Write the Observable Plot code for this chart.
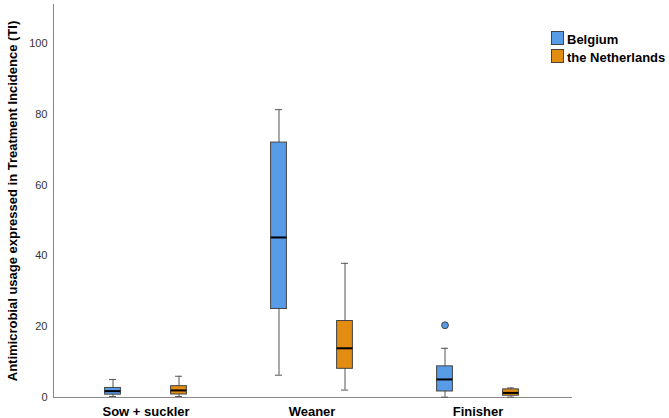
<!DOCTYPE html>
<html><head><meta charset="utf-8">
<script src="https://cdn.jsdelivr.net/npm/d3@7"></script>
<script src="https://cdn.jsdelivr.net/npm/@observablehq/plot@0.6"></script>
<style>
body{margin:0;background:#fff;font-family:"Liberation Sans",Arial,sans-serif}
#wrap{position:relative;width:669px;height:418px}
.legend{position:absolute;left:551px;top:32px;font:bold 13px "Liberation Sans",Arial,sans-serif;color:#000}
.item{display:flex;align-items:flex-end;height:13px;margin-bottom:5px}
.sw{width:11px;height:12px;border:1px solid #444;margin-right:3px;flex:none}
.lbl{line-height:13px;position:relative;top:1px}
</style></head>
<body><div id="wrap"></div>
<script>
const stages = ["Sow + suckler", "Weaner", "Finisher"];
const countries = ["Belgium", "the Netherlands"];
const colors = ["#589be6", "#e28c12"];
const yTicks = [0, 20, 40, 60, 80, 100];
const yLabel = "Antimicrobial usage expressed in Treatment Incidence (TI)";

// Belgium: whisker low, Q1, median, Q3, whisker high
const beLow = [0.3, 6.3, 0.1];
const beQ1 = [0.8, 25.0, 1.7];
const beMed = [1.8, 45.2, 5.1];
const beQ3 = [2.7, 72.0, 8.8];
const beHigh = [5.1, 81.3, 13.9];
// the Netherlands
const nlLow = [0.3, 2.1, 0.1];
const nlQ1 = [0.85, 8.1, 0.5];
const nlMed = [2.0, 13.9, 1.3];
const nlQ3 = [3.2, 21.6, 2.3];
const nlHigh = [6.0, 37.9, 2.7];
// outliers
const outStage = ["Finisher"];
const outCountry = ["Belgium"];
const outValue = [20.4];

const series = [
  {low: beLow, q1: beQ1, med: beMed, q3: beQ3, high: beHigh},
  {low: nlLow, q1: nlQ1, med: nlMed, q3: nlQ3, high: nlHigh}
];
const rows = [];
countries.forEach((c, ci) => stages.forEach((s, si) => rows.push({
  country: c, stage: s,
  low: series[ci].low[si], q1: series[ci].q1[si], med: series[ci].med[si],
  q3: series[ci].q3[si], high: series[ci].high[si]
})));
const outs = outValue.map((v, i) => ({stage: outStage[i], country: outCountry[i], value: v}));

const boxInset = 66.6, capInset = 71;
const offsets = [-33, 33];
const marks = [];
countries.forEach((c, ci) => {
  const d = rows.filter(r => r.country === c);
  const dx = offsets[ci];
  marks.push(
    Plot.ruleX(d, {x: "stage", y1: "low", y2: "high", dx, stroke: "#555", strokeWidth: 1}),
    Plot.tickY(d, {x: "stage", y: "high", dx, insetLeft: capInset, insetRight: capInset, stroke: "#555", strokeWidth: 1}),
    Plot.tickY(d, {x: "stage", y: "low", dx, insetLeft: capInset, insetRight: capInset, stroke: "#555", strokeWidth: 1}),
    Plot.barY(d, {x: "stage", y1: "q1", y2: "q3", dx, insetLeft: boxInset, insetRight: boxInset, fill: colors[ci], stroke: "#444", strokeWidth: 1}),
    Plot.tickY(d, {x: "stage", y: "med", dx, insetLeft: boxInset, insetRight: boxInset, stroke: "#000", strokeWidth: 2}),
    Plot.dot(outs.filter(o => o.country === c), {x: "stage", y: "value", dx, r: 3.4, fill: colors[ci], stroke: "#444", strokeWidth: 1})
  );
});

const chart = Plot.plot({
  width: 669, height: 418,
  marginLeft: 53, marginRight: 98, marginTop: 4, marginBottom: 21,
  style: {fontFamily: "'Liberation Sans', Arial, sans-serif", background: "#fff"},
  x: {domain: stages, paddingInner: 0.1, paddingOuter: 0.101, axis: null},
  y: {domain: [0, 111], axis: null},
  marks: [
    Plot.axisY({ticks: yTicks, tickSize: 0, tickPadding: 6, fontSize: 11, color: "#333", label: null}),
    Plot.axisY({ticks: [], tickSize: 0, label: yLabel, labelAnchor: "center", labelOffset: 46, labelArrow: "none", fontSize: 13, fontWeight: "bold", color: "#000"}),
    Plot.axisX({tickSize: 0, tickPadding: 9, fontSize: 13, fontWeight: "bold", color: "#000", label: null}),
    Plot.frame({anchor: "left", stroke: "#888"}),
    Plot.frame({anchor: "bottom", stroke: "#888"}),
    ...marks
  ]
});
const wrap = document.getElementById("wrap");
wrap.appendChild(chart);
const leg = document.createElement("div");
leg.className = "legend";
countries.forEach((c, i) => {
  const it = document.createElement("div"); it.className = "item";
  const sw = document.createElement("div"); sw.className = "sw"; sw.style.background = colors[i];
  const t = document.createElement("span"); t.className = "lbl"; t.textContent = c;
  it.appendChild(sw); it.appendChild(t); leg.appendChild(it);
});
wrap.appendChild(leg);
</script></body></html>
